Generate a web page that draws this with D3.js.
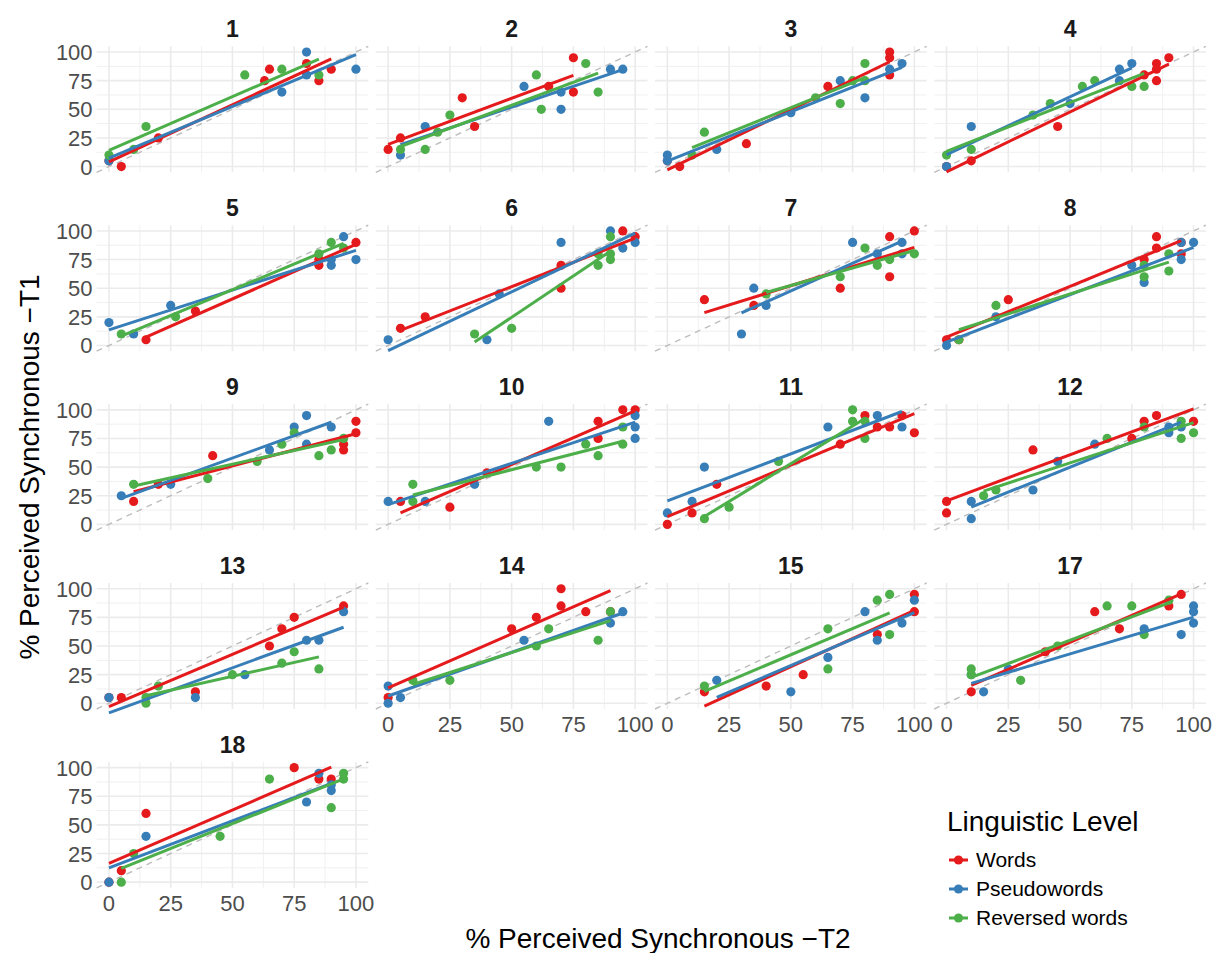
<!DOCTYPE html>
<html><head><meta charset="utf-8">
<script src="https://cdn.jsdelivr.net/npm/d3@7"></script>
<style>body{margin:0;background:#fff}svg{display:block}text{font-family:"Liberation Sans",Arial,Helvetica,sans-serif}</style>
</head><body>
<script>
const panels = ["1","2","3","4","5","6","7","8","9","10","11","12","13","14","15","17","18"];
const levels = ["Words","Pseudowords","Reversed words"];
const levelColors = ["#E41A1C","#377EB8","#4DAF4A"];
const ticks = [0,25,50,75,100];
// [T2, T1] pairs per participant panel
const wordsPts = {
 "1":[[0,5],[5,0],[20,25],[63,75],[65,85],[80,90],[85,75],[90,85]],
 "2":[[0,15],[5,25],[30,60],[35,35],[65,70],[75,95],[75,65]],
 "3":[[0,5],[5,0],[32,20],[65,70],[90,100],[90,95],[90,80]],
 "4":[[0,0],[10,5],[45,35],[80,80],[85,90],[85,75],[85,85],[90,95]],
 "5":[[15,5],[35,30],[85,70],[85,75],[100,90]],
 "6":[[5,15],[15,25],[70,50],[70,70],[95,100],[100,95]],
 "7":[[15,40],[35,35],[70,50],[90,95],[90,60],[100,100]],
 "8":[[0,5],[5,5],[25,40],[80,75],[85,95],[85,85],[95,80],[95,90]],
 "9":[[10,20],[20,35],[42,60],[95,70],[95,65],[100,90],[100,80]],
 "10":[[5,20],[25,15],[40,45],[85,90],[85,75],[95,100],[100,100]],
 "11":[[0,0],[10,10],[20,35],[70,70],[80,95],[85,85],[90,85],[95,95],[100,80]],
 "12":[[0,20],[0,10],[35,65],[75,75],[80,90],[85,95],[100,90]],
 "13":[[0,5],[5,5],[35,10],[65,50],[70,65],[75,75],[95,85]],
 "14":[[0,5],[50,65],[60,75],[70,85],[70,100],[80,80],[90,80]],
 "15":[[15,10],[40,15],[55,25],[85,60],[100,95],[100,80]],
 "17":[[10,10],[40,45],[60,80],[70,65],[90,85],[95,95]],
 "18":[[0,0],[5,10],[15,60],[75,100],[85,90],[90,90]]
};
const pseudoPts = {
 "1":[[0,5],[70,65],[80,80],[80,100],[100,85]],
 "2":[[5,10],[15,35],[55,70],[70,65],[70,50],[90,85],[95,85]],
 "3":[[0,10],[0,5],[20,15],[50,47],[70,75],[80,60],[90,85],[95,90]],
 "4":[[0,0],[10,35],[50,55],[70,85],[70,75],[75,90]],
 "5":[[0,20],[10,10],[25,35],[90,70],[90,75],[95,95],[100,75]],
 "6":[[0,5],[40,5],[45,45],[70,90],[90,100],[95,85],[100,90]],
 "7":[[30,10],[35,50],[40,35],[75,90],[85,80],[95,90],[95,80]],
 "8":[[0,0],[20,25],[75,70],[80,55],[95,90],[95,75],[100,90]],
 "9":[[5,25],[25,35],[65,65],[75,85],[80,95],[80,70],[90,85]],
 "10":[[0,20],[15,20],[35,35],[65,90],[100,95],[100,85],[100,75]],
 "11":[[0,10],[10,20],[15,50],[65,85],[85,95],[95,85]],
 "12":[[10,20],[10,5],[35,30],[45,55],[60,70],[90,85],[90,80],[95,85]],
 "13":[[0,5],[35,5],[55,25],[80,55],[85,55],[95,80]],
 "14":[[0,15],[0,0],[5,5],[55,55],[90,70],[95,80]],
 "15":[[20,20],[50,10],[65,40],[80,80],[85,55],[95,70],[100,90]],
 "17":[[10,25],[15,10],[25,30],[80,65],[95,60],[100,85],[100,80],[100,70]],
 "18":[[0,0],[15,40],[80,70],[85,95],[90,80],[90,85]]
};
const reversedPts = {
 "1":[[0,10],[10,15],[15,35],[55,80],[70,85],[85,80]],
 "2":[[5,15],[15,15],[20,30],[25,45],[60,80],[62,50],[80,90],[85,65]],
 "3":[[10,10],[15,30],[60,60],[70,55],[75,75],[80,90],[80,75]],
 "4":[[0,10],[10,15],[35,45],[42,55],[55,70],[60,75],[75,70],[80,70]],
 "5":[[5,10],[27,25],[85,80],[90,90],[95,85]],
 "6":[[35,10],[50,15],[85,70],[85,80],[90,75],[90,80],[90,95]],
 "7":[[40,45],[70,60],[80,85],[85,70],[90,75],[100,80]],
 "8":[[5,5],[20,35],[80,70],[80,60],[90,80],[90,65]],
 "9":[[10,35],[40,40],[60,55],[70,70],[75,80],[85,60],[90,65],[95,75]],
 "10":[[10,35],[10,20],[60,50],[70,50],[80,70],[85,60],[95,85],[95,70]],
 "11":[[15,5],[25,15],[45,55],[75,100],[75,90],[80,90],[80,75]],
 "12":[[15,25],[20,30],[65,75],[80,85],[95,90],[95,75],[100,80]],
 "13":[[15,0],[15,5],[20,15],[50,25],[70,35],[75,45],[85,30]],
 "14":[[10,20],[25,20],[60,50],[65,65],[85,55],[90,80]],
 "15":[[15,15],[65,65],[65,30],[85,90],[90,95],[90,60]],
 "17":[[10,30],[10,25],[30,20],[45,50],[65,85],[75,85],[80,60],[90,90]],
 "18":[[5,0],[10,25],[45,40],[65,90],[90,65],[95,90],[95,95]]
};
const seriesPts = [wordsPts, pseudoPts, reversedPts];

const W = 1216, H = 953;
const svg = d3.select("body").append("svg").attr("width", W).attr("height", H);

const panelW = 271.7, panelH = 126;
const left0 = 96.6, colStep = 279.2;
const top0 = 46.3, rowStep = 178.9;
const nCols = 4;

function fit(pts){
  const mx = d3.mean(pts, d=>d[0]), my = d3.mean(pts, d=>d[1]);
  let sxy=0, sxx=0;
  pts.forEach(d=>{sxy+=(d[0]-mx)*(d[1]-my); sxx+=(d[0]-mx)*(d[0]-mx);});
  const b = sxx ? sxy/sxx : 0, a = my - b*mx;
  const x0 = d3.min(pts,d=>d[0]), x1 = d3.max(pts,d=>d[0]);
  return [[x0, a+b*x0],[x1, a+b*x1]];
}

panels.forEach((p, i) => {
  const col = i % nCols, row = Math.floor(i / nCols);
  const px = left0 + col*colStep, py = top0 + row*rowStep;
  const x = d3.scaleLinear().domain([-5,105]).range([px, px+panelW]);
  const y = d3.scaleLinear().domain([-5,105]).range([py+panelH, py]);
  const g = svg.append("g");
  const minor = [12.5,37.5,62.5,87.5];
  g.selectAll(null).data(minor).join("line")
    .attr("x1", d=>x(d)).attr("x2", d=>x(d)).attr("y1", py).attr("y2", py+panelH)
    .attr("stroke","#f0f0f0").attr("stroke-width",1);
  g.selectAll(null).data(minor).join("line")
    .attr("y1", d=>y(d)).attr("y2", d=>y(d)).attr("x1", px).attr("x2", px+panelW)
    .attr("stroke","#f0f0f0").attr("stroke-width",1);
  g.selectAll(null).data(ticks).join("line")
    .attr("x1", d=>x(d)).attr("x2", d=>x(d)).attr("y1", py).attr("y2", py+panelH)
    .attr("stroke","#ebebeb").attr("stroke-width",1.6);
  g.selectAll(null).data(ticks).join("line")
    .attr("y1", d=>y(d)).attr("y2", d=>y(d)).attr("x1", px).attr("x2", px+panelW)
    .attr("stroke","#ebebeb").attr("stroke-width",1.6);
  g.append("line").attr("x1", x(-5)).attr("y1", y(-5)).attr("x2", x(105)).attr("y2", y(105))
    .attr("stroke","#bdbdbd").attr("stroke-width",1.4).attr("stroke-dasharray","6,5");
  seriesPts.forEach((s, k) => {
    g.selectAll(null).data(s[p]).join("circle")
      .attr("cx", d=>x(d[0])).attr("cy", d=>y(d[1])).attr("r", 4.6)
      .attr("fill", levelColors[k]);
  });
  seriesPts.forEach((s, k) => {
    const f = fit(s[p]);
    g.append("line").attr("x1", x(f[0][0])).attr("y1", y(f[0][1]))
      .attr("x2", x(f[1][0])).attr("y2", y(f[1][1]))
      .attr("stroke", levelColors[k]).attr("stroke-width", 3);
  });
  svg.append("text").attr("x", px+panelW/2).attr("y", py-9).attr("text-anchor","middle")
    .attr("font-size", 23).attr("font-weight","bold").attr("fill","#1a1a1a").text(p);
  if (col === 0) {
    svg.append("g").selectAll("text").data(ticks).join("text")
      .attr("x", px-4).attr("y", d=>y(d)+8).attr("text-anchor","end")
      .attr("font-size", 22).attr("fill","#4d4d4d").text(d=>d);
  }
  if (i + nCols >= panels.length) {
    svg.append("g").selectAll("text").data(ticks).join("text")
      .attr("x", d=>x(d)).attr("y", py+panelH+23).attr("text-anchor","middle")
      .attr("font-size", 22).attr("fill","#4d4d4d").text(d=>d);
  }
});

svg.append("text").attr("x", 658).attr("y", 948).attr("text-anchor","middle")
  .attr("font-size", 28).attr("fill","#000").text("% Perceived Synchronous \u2212T2");
svg.append("text").attr("transform","translate(39,467) rotate(-90)").attr("text-anchor","middle")
  .attr("font-size", 28).attr("fill","#000").text("% Perceived Synchronous \u2212T1");

const lg = svg.append("g");
lg.append("text").attr("x", 947).attr("y", 831).attr("font-size", 28).attr("fill","#000").text("Linguistic Level");
levels.forEach((l, k) => {
  const cy = 860 + k*29;
  lg.append("line").attr("x1", 949).attr("x2", 968).attr("y1", cy).attr("y2", cy)
    .attr("stroke", levelColors[k]).attr("stroke-width", 3);
  lg.append("circle").attr("cx", 958.5).attr("cy", cy).attr("r", 4.6).attr("fill", levelColors[k]);
  lg.append("text").attr("x", 976).attr("y", cy+7).attr("font-size", 21).attr("fill","#000").text(l);
});
</script>
</body></html>
